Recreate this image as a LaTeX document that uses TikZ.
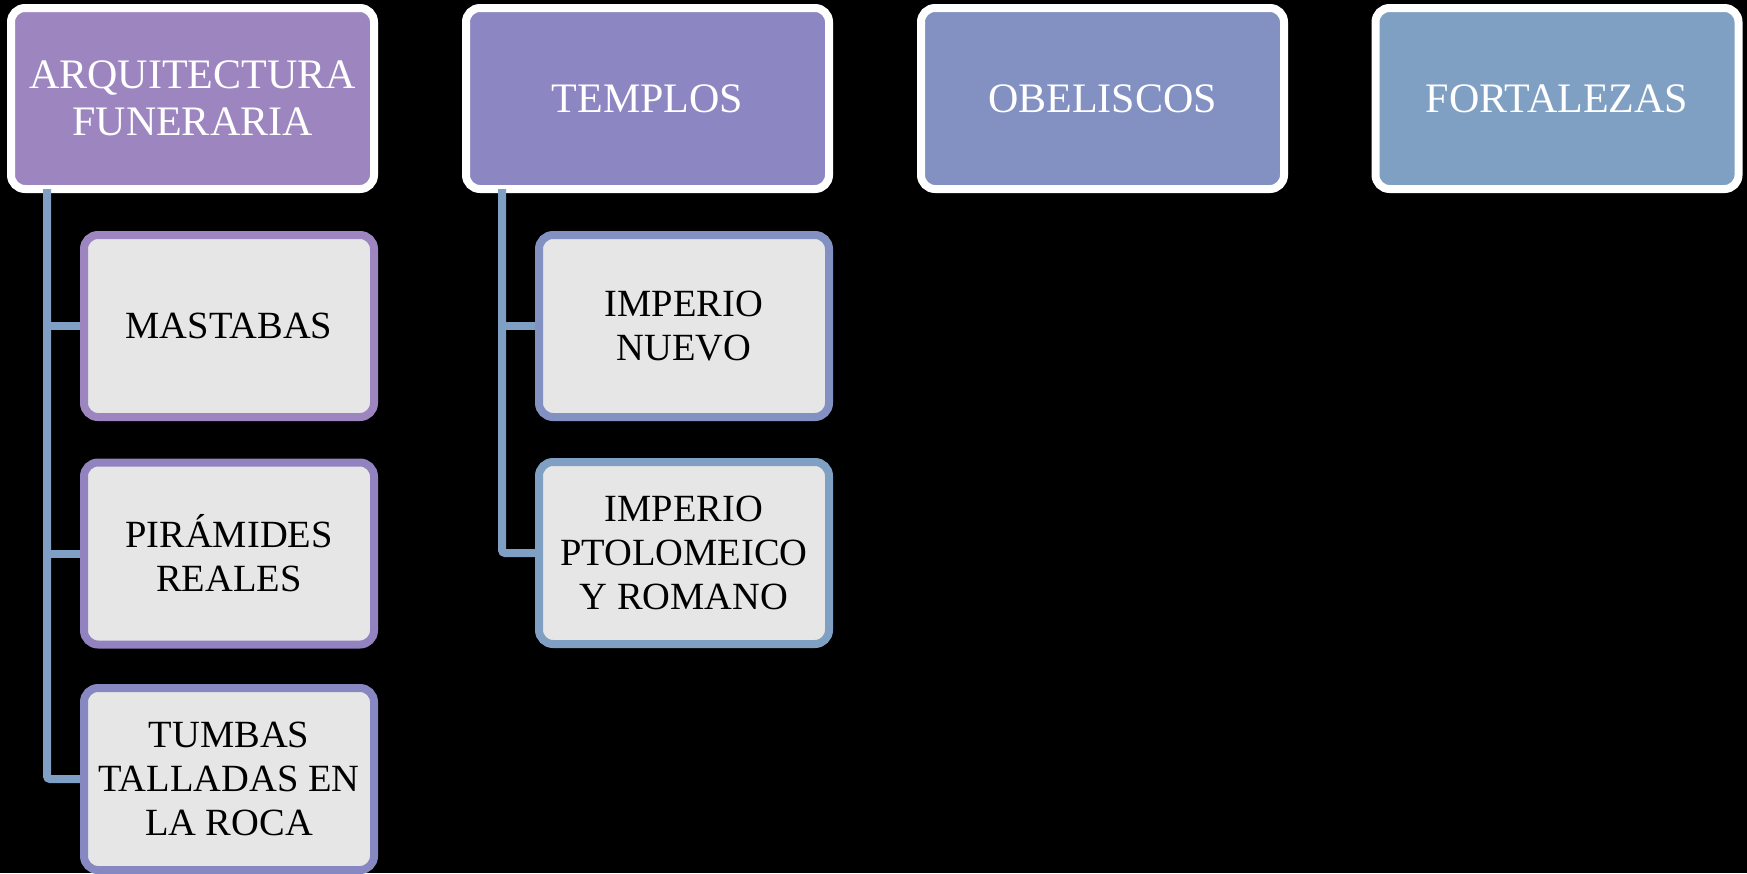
\documentclass[tikz,border=0pt]{standalone}
\usepackage{fontspec}
\setmainfont{Liberation Serif}
\definecolor{cA}{HTML}{9D86C0}
\definecolor{cB}{HTML}{8C86C2}
\definecolor{cC}{HTML}{8290C2}
\definecolor{cD}{HTML}{7FA0C3}
\definecolor{cPa}{HTML}{9282C0}
\definecolor{cPb}{HTML}{8787C2}
\definecolor{cLine}{HTML}{7FA0C4}
\definecolor{cFill}{HTML}{E6E6E6}
\tikzset{
  topbox/.style={draw=white, line width=8pt, rounded corners=14pt, minimum width=363pt, minimum height=181pt, inner sep=0pt, text=white, align=center, font=\fontsize{42}{47}\selectfont},
  childbox/.style={draw=#1, fill=cFill, line width=8pt, rounded corners=14pt, minimum width=290pt, minimum height=182pt, inner sep=0pt, text=black, align=center, font=\fontsize{38.5}{44}\selectfont},
  conn/.style={draw=cLine, line width=8pt, rounded corners=3pt}
}
\begin{document}
\begin{tikzpicture}[x=1pt,y=1pt]
\fill[black] (0,0) rectangle (1747,-873);
\useasboundingbox (0,0) rectangle (1747,-873);
% top boxes
\node[topbox, fill=cA] (t1) at (192.5,-98.5) {ARQUITECTURA\\FUNERARIA};
\node[topbox, fill=cB] (t2) at (647.5,-98.5) {TEMPLOS};
\node[topbox, fill=cC] (t3) at (1102.5,-98.5) {OBELISCOS};
\node[topbox, fill=cD] (t4) at (1557,-98.5) {FORTALEZAS};
% connector anchors
\coordinate (v1) at (47,-189);
\coordinate (v2) at (502,-189);
% children coordinates
\path (229,-326) coordinate (m1) (229,-553.5) coordinate (m2) (229,-779) coordinate (m3);
\path (684,-326) coordinate (n1) (684,-553) coordinate (n2);
% connectors (drawn first)
\draw[conn] (v1) |- (m3);
\draw[conn] (47,-326) -- (m1);
\draw[conn] (47,-553.5) -- (m2);
\draw[conn] (v2) |- (n2);
\draw[conn] (502,-326) -- (n1);
% child boxes
\node[childbox=cA] (c1) at (m1) {MASTABAS};
\node[childbox=cPa] (c2) at (m2) {PIRÁMIDES\\REALES};
\node[childbox=cPb] (c3) at (m3) {TUMBAS\\TALLADAS EN\\LA ROCA};
\node[childbox=cC] (d1) at (n1) {IMPERIO\\NUEVO};
\node[childbox=cD] (d2) at (n2) {IMPERIO\\PTOLOMEICO\\Y ROMANO};
\end{tikzpicture}
\end{document}
